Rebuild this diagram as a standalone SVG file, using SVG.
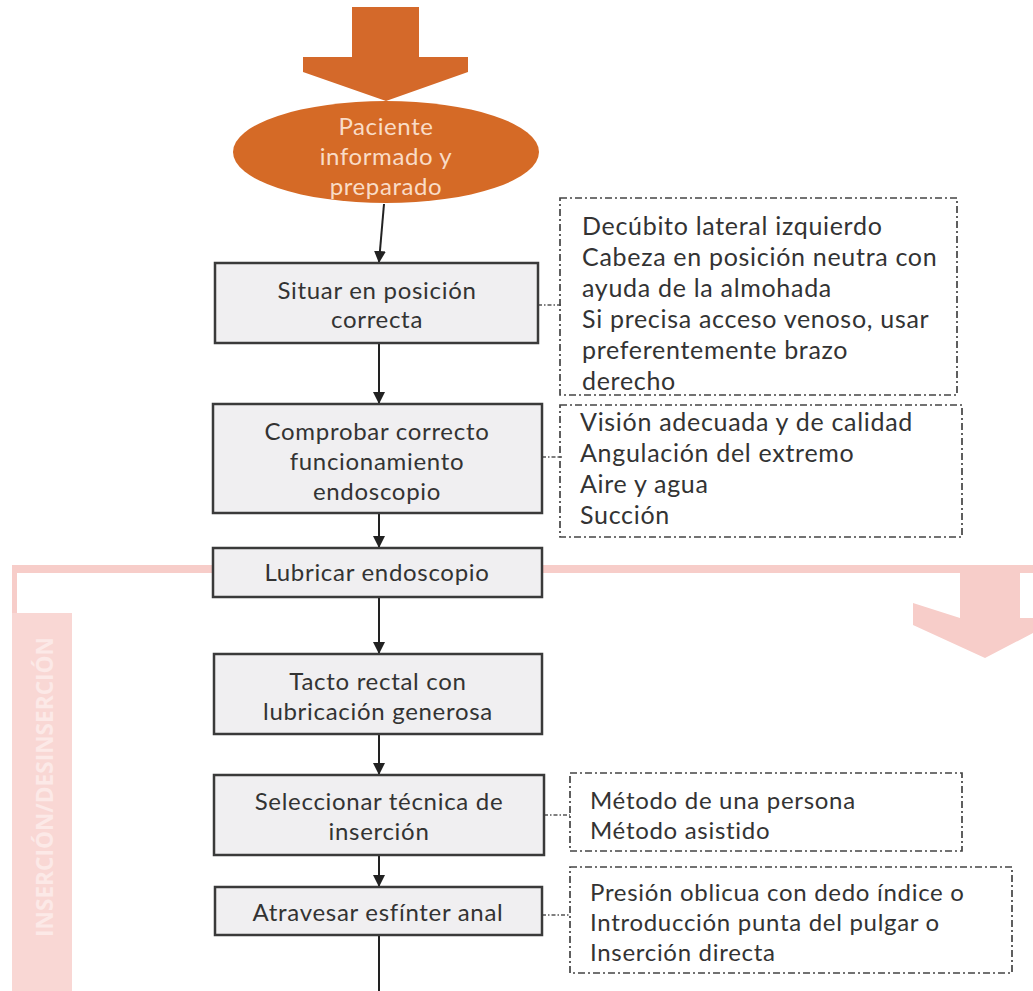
<svg xmlns="http://www.w3.org/2000/svg" width="1033" height="991" viewBox="0 0 1033 991">
<defs>
<style>
.box{fill:#f0eff1;stroke:#3a3a3a;stroke-width:2.5}
.note{fill:none;stroke:#444;stroke-width:1.7;stroke-dasharray:7 3 2 3}
.t{font-family:Lato,"Open Sans","Liberation Sans",sans-serif;font-size:24px;fill:#333;letter-spacing:0.7px}
.big{font-size:25px}
.c{text-anchor:middle}
.w{font-family:Lato,"Open Sans","Liberation Sans",sans-serif;font-size:24px;fill:#f9dcc6;text-anchor:middle;letter-spacing:0.6px}
.conn{stroke:#222;stroke-width:2;fill:none}
.dconn{stroke:#555;stroke-width:1.3;fill:none;stroke-dasharray:4 2 1.5 2}
.pink{fill:#f7cdc9}
</style>
<marker id="ah" viewBox="0 0 12 12" refX="11" refY="6" markerWidth="12" markerHeight="12" markerUnits="userSpaceOnUse" orient="auto">
<path d="M0,0 L12,6 L0,12 Z" fill="#222"/>
</marker>
</defs>
<rect width="1033" height="991" fill="#ffffff"/>

<g id="section-insercion">
<rect class="pink" x="12" y="565" width="1021" height="8"/>
<rect class="pink" x="12" y="565" width="5" height="50"/>
<rect x="12" y="613" width="60" height="378" fill="#f9d7d4"/>
<text transform="translate(53,787) rotate(-90)" font-family="'Open Sans','Liberation Sans',sans-serif" font-weight="bold" font-size="23" fill="#fce9e7" text-anchor="middle" textLength="300" lengthAdjust="spacingAndGlyphs">INSERCIÓN/DESINSERCIÓN</text>
<polygon class="pink" points="960,569 1020,569 1020,618 1062,618 985,658 913,625 913,603 960,618"/>
</g>

<g id="start-arrow">
<polygon fill="#d4692a" points="352,7 419,7 419,57 468,57 468,72 386,101 303,72 303,57 352,57"/>
</g>

<g id="connectors">
<line class="conn" x1="384" y1="204" x2="379" y2="262" marker-end="url(#ah)"/>
<line class="conn" x1="379" y1="343" x2="379" y2="403" marker-end="url(#ah)"/>
<line class="conn" x1="379" y1="513" x2="379" y2="547" marker-end="url(#ah)"/>
<line class="conn" x1="379" y1="597" x2="379" y2="653" marker-end="url(#ah)"/>
<line class="conn" x1="379" y1="734" x2="379" y2="774" marker-end="url(#ah)"/>
<line class="conn" x1="379" y1="855" x2="379" y2="886" marker-end="url(#ah)"/>
<line class="conn" x1="379" y1="935" x2="379" y2="991"/>
<line class="dconn" x1="538" y1="305" x2="562" y2="305"/>
<line class="dconn" x1="542" y1="457" x2="562" y2="457"/>
<line class="dconn" x1="544" y1="815" x2="570" y2="815"/>
<line class="dconn" x1="542" y1="915" x2="570" y2="915"/>
</g>

<g id="start">
<ellipse cx="386" cy="152" rx="153" ry="51" fill="#d56a26"/>
<text class="w" x="386" y="135">Paciente</text>
<text class="w" x="386" y="165">informado y</text>
<text class="w" x="386" y="195">preparado</text>
</g>

<g id="situar">
<rect class="box" x="215" y="263" width="323" height="80"/>
<text class="t c" x="377" y="299">Situar en posición</text>
<text class="t c" x="377" y="328">correcta</text>
</g>

<g id="comprobar">
<rect class="box" x="213" y="404" width="329" height="109"/>
<text class="t c" x="377" y="440">Comprobar correcto</text>
<text class="t c" x="377" y="470">funcionamiento</text>
<text class="t c" x="377" y="500">endoscopio</text>
</g>

<g id="lubricar">
<rect class="box" x="213" y="548" width="329" height="49"/>
<text class="t c" x="377" y="581">Lubricar endoscopio</text>
</g>

<g id="tacto">
<rect class="box" x="214" y="654" width="328" height="80"/>
<text class="t c" x="378" y="690">Tacto rectal con</text>
<text class="t c" x="378" y="720">lubricación generosa</text>
</g>

<g id="seleccionar">
<rect class="box" x="214" y="775" width="330" height="80"/>
<text class="t c" x="379" y="810">Seleccionar técnica de</text>
<text class="t c" x="379" y="840">inserción</text>
</g>

<g id="atravesar">
<rect class="box" x="215" y="887" width="327" height="48"/>
<text class="t c" x="378" y="921">Atravesar esfínter anal</text>
</g>

<g id="nota-posicion">
<rect class="note" x="560" y="198" width="397" height="197"/>
<text class="t big" x="582" y="235">Decúbito lateral izquierdo</text>
<text class="t big" x="582" y="266">Cabeza en posición neutra con</text>
<text class="t big" x="582" y="297">ayuda de la almohada</text>
<text class="t big" x="582" y="328">Si precisa acceso venoso, usar</text>
<text class="t big" x="582" y="359">preferentemente brazo</text>
<text class="t big" x="582" y="390">derecho</text>
</g>

<g id="nota-endoscopio">
<rect class="note" x="560" y="405" width="402" height="132"/>
<text class="t big" x="580" y="431">Visión adecuada y de calidad</text>
<text class="t big" x="580" y="462">Angulación del extremo</text>
<text class="t big" x="580" y="493">Aire y agua</text>
<text class="t big" x="580" y="524">Succión</text>
</g>

<g id="nota-tecnica">
<rect class="note" x="570" y="773" width="392" height="78"/>
<text class="t" x="590" y="809">Método de una persona</text>
<text class="t" x="590" y="839">Método asistido</text>
</g>

<g id="nota-esfinter">
<rect class="note" x="570" y="867" width="442" height="106"/>
<text class="t" x="590" y="901">Presión oblicua con dedo índice o</text>
<text class="t" x="590" y="931">Introducción punta del pulgar o</text>
<text class="t" x="590" y="961">Inserción directa</text>
</g>
</svg>
